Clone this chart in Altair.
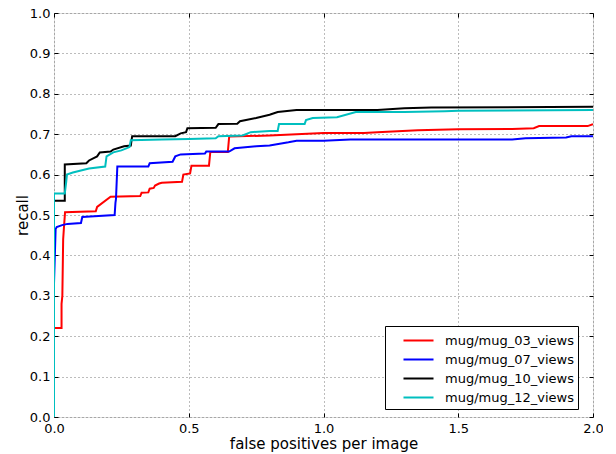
import altair as alt
import pandas as pd

names = ["mug/mug_03_views", "mug/mug_07_views", "mug/mug_10_views", "mug/mug_12_views"]
colors = ["#ff0000", "#0000ff", "#000000", "#00bfbf"]

red_x = [0, 0, 0.028, 0.028, 0.031, 0.034, 0.037, 0.041, 0.155, 0.16, 0.21, 0.32, 0.325, 0.35, 0.355, 0.37, 0.375, 0.39, 0.40, 0.475, 0.48, 0.505, 0.51, 0.575, 0.58, 0.645, 0.65, 0.8, 0.9, 1.0, 1.15, 1.2, 1.35, 1.5, 1.7, 1.78, 1.8, 1.98, 2.0]
red_y = [0, 0.22, 0.22, 0.28, 0.30, 0.44, 0.47, 0.507, 0.509, 0.52, 0.545, 0.547, 0.555, 0.556, 0.565, 0.567, 0.573, 0.578, 0.58, 0.582, 0.60, 0.603, 0.622, 0.622, 0.656, 0.656, 0.694, 0.697, 0.70, 0.703, 0.703, 0.705, 0.71, 0.712, 0.713, 0.715, 0.72, 0.72, 0.725]

blue_x = [0, 0, 0.006, 0.01, 0.03, 0.05, 0.10, 0.105, 0.15, 0.225, 0.228, 0.23, 0.235, 0.35, 0.355, 0.44, 0.45, 0.47, 0.56, 0.565, 0.65, 0.67, 0.75, 0.8, 0.87, 0.9, 1.0, 1.1, 1.7, 1.75, 1.9, 1.92, 2.0]
blue_y = [0, 0.33, 0.465, 0.47, 0.475, 0.478, 0.48, 0.495, 0.497, 0.50, 0.53, 0.54, 0.62, 0.62, 0.628, 0.632, 0.645, 0.65, 0.652, 0.657, 0.657, 0.665, 0.67, 0.672, 0.68, 0.684, 0.684, 0.687, 0.687, 0.69, 0.692, 0.695, 0.695]

black_x = [0, 0, 0.04, 0.04, 0.12, 0.13, 0.16, 0.17, 0.21, 0.22, 0.26, 0.285, 0.29, 0.45, 0.47, 0.49, 0.495, 0.6, 0.61, 0.68, 0.69, 0.75, 0.8, 0.83, 0.9, 1.2, 1.3, 1.4, 2.0]
black_y = [0, 0.535, 0.535, 0.625, 0.628, 0.635, 0.645, 0.655, 0.657, 0.662, 0.67, 0.672, 0.695, 0.695, 0.702, 0.705, 0.715, 0.716, 0.725, 0.726, 0.732, 0.74, 0.748, 0.755, 0.76, 0.76, 0.764, 0.766, 0.768]

cyan_x = [0, 0, 0.04, 0.045, 0.048, 0.07, 0.10, 0.13, 0.19, 0.195, 0.22, 0.25, 0.28, 0.285, 0.4, 0.5, 0.6, 0.61, 0.7, 0.73, 0.8, 0.83, 0.835, 0.93, 0.935, 0.96, 1.05, 1.12, 1.3, 1.45, 1.5, 2.0]
cyan_y = [0, 0.553, 0.553, 0.58, 0.60, 0.605, 0.61, 0.615, 0.62, 0.645, 0.655, 0.66, 0.668, 0.685, 0.687, 0.688, 0.69, 0.695, 0.697, 0.705, 0.708, 0.708, 0.725, 0.725, 0.735, 0.74, 0.742, 0.755, 0.755, 0.757, 0.758, 0.76]

series = [(names[0], red_x, red_y), (names[1], blue_x, blue_y),
          (names[2], black_x, black_y), (names[3], cyan_x, cyan_y)]
rows = []
for name, xs, ys in series:
    for i, (xv, yv) in enumerate(zip(xs, ys)):
        rows.append({"series": name, "x": xv, "y": yv, "i": i})
df = pd.DataFrame(rows)

W, H = 539, 404
FONT = "DejaVu Sans"
xscale = alt.Scale(domain=[0, 2.0], nice=False, zero=False)
yscale = alt.Scale(domain=[0, 1.0], nice=False, zero=False)
xticks = [0, 0.5, 1.0, 1.5, 2.0]
yticks = [round(v * 0.1, 1) for v in range(11)]

base = alt.Chart(df)

lines = base.mark_line(strokeWidth=2, clip=True).encode(
    x=alt.X("x:Q", scale=xscale, axis=alt.Axis(
        title="false positives per image", values=xticks, format=".1f",
        ticks=False, domain=False, grid=True, gridColor="#555555", gridDash=[1, 3],
        gridWidth=0.8, labelFont=FONT, labelFontSize=13, labelColor="#000000",
        labelPadding=5, titleFont=FONT, titleFontSize=15, titleFontWeight="normal",
        titleColor="#000000", titleY=31, titleBaseline="alphabetic", labelFlush=False)),
    y=alt.Y("y:Q", scale=yscale, axis=alt.Axis(
        title="recall", values=yticks, format=".1f",
        ticks=False, domain=False, grid=True, gridColor="#555555", gridDash=[1, 3],
        gridWidth=0.8, labelFont=FONT, labelFontSize=13, labelColor="#000000",
        labelPadding=4, titleFont=FONT, titleFontSize=15, titleFontWeight="normal",
        titleColor="#000000", titleX=-27, titleBaseline="alphabetic", labelFlush=False)),
    color=alt.Color("series:N", scale=alt.Scale(domain=names, range=colors), legend=alt.Legend(
        title=None, orient="none", legendX=331, legendY=313, symbolType="M-1.58,0H1.58",
        symbolStrokeWidth=2, symbolSize=361, labelFont=FONT, labelFontSize=13,
        labelColor="#000000", strokeColor="#000000", fillColor="#ffffff",
        padding=4, rowPadding=1, symbolOffset=19, labelOffset=16, cornerRadius=0)),
    order=alt.Order("i:Q"),
)

ticks_a = base.mark_point(opacity=0).encode(
    x=alt.X("x:Q", scale=xscale, axis=alt.Axis(title=None, labels=False, domain=False, grid=False,
            ticks=True, tickSize=4, tickColor="#000000", orient="top", offset=-H, values=xticks)),
    y=alt.Y("y:Q", scale=yscale, axis=alt.Axis(title=None, labels=False, domain=False, grid=False,
            ticks=True, tickSize=4, tickColor="#000000", orient="right", offset=-W, values=yticks)),
)
ticks_b = base.mark_point(opacity=0).encode(
    x=alt.X("x:Q", scale=xscale, axis=alt.Axis(title=None, labels=False, domain=False, grid=False,
            ticks=True, tickSize=4, tickColor="#000000", orient="bottom", offset=-H, values=xticks)),
    y=alt.Y("y:Q", scale=yscale, axis=alt.Axis(title=None, labels=False, domain=False, grid=False,
            ticks=True, tickSize=4, tickColor="#000000", orient="left", offset=-W, values=yticks)),
)

chart = alt.layer(lines, ticks_a, ticks_b).resolve_axis(x="independent", y="independent").properties(
    width=W, height=H,
    autosize=alt.AutoSizeParams(type="none"),
    padding={"left": 46, "top": 5, "right": 10, "bottom": 37},
).configure_view(stroke="#000000", strokeWidth=1.2).configure(background="#ffffff")

chart.save("out.html", embed_options={"renderer": "svg", "actions": False})
